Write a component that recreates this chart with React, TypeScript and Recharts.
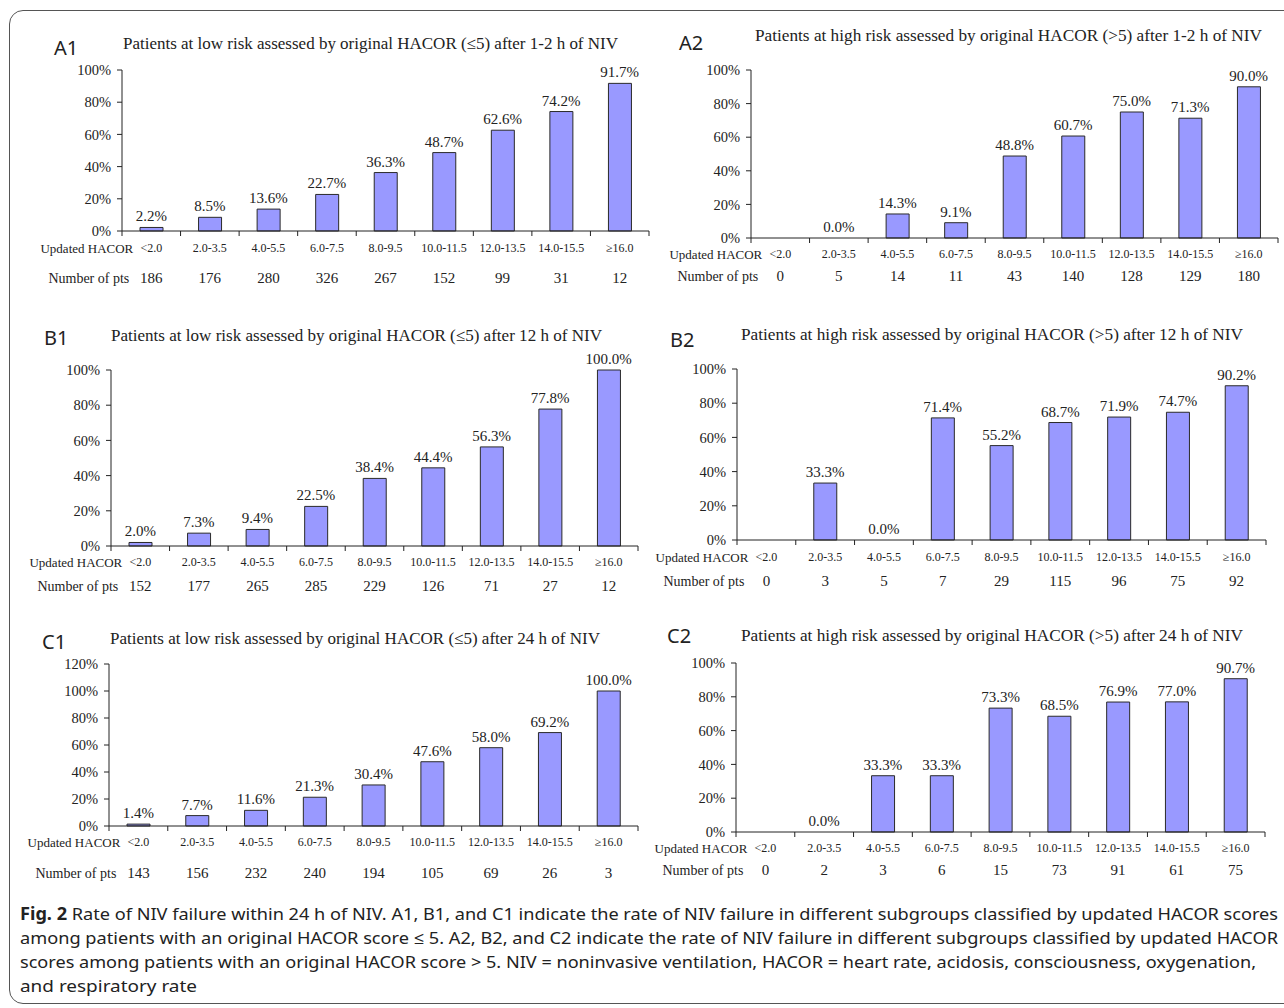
import React from 'react';
import { ComposedChart, Bar, Line, XAxis, YAxis, LabelList } from 'recharts';

const categories = ['<2.0', '2.0-3.5', '4.0-5.5', '6.0-7.5', '8.0-9.5', '10.0-11.5', '12.0-13.5', '14.0-15.5', '≥16.0'];

const a1Rates = [2.2, 8.5, 13.6, 22.7, 36.3, 48.7, 62.6, 74.2, 91.7];
const a1Pts = [186, 176, 280, 326, 267, 152, 99, 31, 12];
const a2Rates = [null, 0.0, 14.3, 9.1, 48.8, 60.7, 75.0, 71.3, 90.0];
const a2Pts = [0, 5, 14, 11, 43, 140, 128, 129, 180];
const b1Rates = [2.0, 7.3, 9.4, 22.5, 38.4, 44.4, 56.3, 77.8, 100.0];
const b1Pts = [152, 177, 265, 285, 229, 126, 71, 27, 12];
const b2Rates = [null, 33.3, 0.0, 71.4, 55.2, 68.7, 71.9, 74.7, 90.2];
const b2Pts = [0, 3, 5, 7, 29, 115, 96, 75, 92];
const c1Rates = [1.4, 7.7, 11.6, 21.3, 30.4, 47.6, 58.0, 69.2, 100.0];
const c1Pts = [143, 156, 232, 240, 194, 105, 69, 26, 3];
const c2Rates = [null, 0.0, 33.3, 33.3, 73.3, 68.5, 76.9, 77.0, 90.7];
const c2Pts = [0, 2, 3, 6, 15, 73, 91, 61, 75];

const yTicks100 = [0, 20, 40, 60, 80, 100];
const yTicks120 = [0, 20, 40, 60, 80, 100, 120];

const rowHeaderCat = 'Updated HACOR';
const rowHeaderPts = 'Number of pts';

const SERIF = '"Liberation Serif", "Times New Roman", serif';
const SANS = '"Noto Sans", "Open Sans", sans-serif';
const INK = '#222';

type PanelProps = {
  rates: (number | null)[];
  pts: number[];
  axisX: number;
  right: number;
  top: number;
  bottom: number;
  yMax: number;
  ticks: number[];
  labelDy: number;
  numDy: number;
};

const ML = 110;
const MR = 12;
const MT = 24;
const XH = 64;

const fmtRate = (v: any) => (v === null || v === undefined ? '' : `${Number(v).toFixed(1)}%`);

function Panel(p: PanelProps) {
  const data = categories.map((c, i) => ({ cat: c, rate: p.rates[i], pts: p.pts[i] }));
  const plotW = p.right - p.axisX;
  const plotH = p.bottom - p.top;
  const band = plotW / categories.length;
  const W = ML + plotW + MR;
  const H = MT + plotH + XH;
  const baseY = MT + plotH;

  const XTick = (tp: any) => {
    const { x, index, payload } = tp;
    return (
      <g>
        {index === 0 && (
          <line x1={x - band / 2} x2={x - band / 2} y1={baseY} y2={baseY + 5} stroke={INK} strokeWidth={1} />
        )}
        <line x1={x + band / 2} x2={x + band / 2} y1={baseY} y2={baseY + 5} stroke={INK} strokeWidth={1} />
        {index === 0 && (
          <text x={x - 18} y={baseY + p.labelDy} textAnchor="end" dominantBaseline="central" fontFamily={SERIF} fontSize={13} fill={INK}>
            {rowHeaderCat}
          </text>
        )}
        {index === 0 && (
          <text x={x - 22} y={baseY + p.numDy} textAnchor="end" dominantBaseline="central" fontFamily={SERIF} fontSize={14} fill={INK}>
            {rowHeaderPts}
          </text>
        )}
        <text x={x} y={baseY + p.labelDy} textAnchor="middle" dominantBaseline="central" fontFamily={SERIF} fontSize={12} fill={INK}>
          {payload.value}
        </text>
        <text x={x} y={baseY + p.numDy} textAnchor="middle" dominantBaseline="central" fontFamily={SERIF} fontSize={15} fill={INK}>
          {p.pts[index]}
        </text>
      </g>
    );
  };

  return (
    <div style={{ position: 'absolute', left: p.axisX - ML, top: p.top - MT }}>
      <ComposedChart width={W} height={H} data={data} margin={{ top: MT, right: MR, left: 0, bottom: 0 }}>
        <XAxis
          dataKey="cat"
          height={XH}
          interval={0}
          tickLine={false}
          axisLine={{ stroke: INK, strokeWidth: 1 }}
          tick={XTick}
        />
        <YAxis
          type="number"
          width={ML}
          domain={[0, p.yMax]}
          ticks={p.ticks}
          interval={0}
          tickFormatter={(v: number) => `${v}%`}
          tickSize={5}
          tickMargin={6}
          axisLine={{ stroke: INK, strokeWidth: 1 }}
          tickLine={{ stroke: INK, strokeWidth: 1 }}
          tick={{ fontFamily: SERIF, fontSize: 14.5, fill: INK }}
        />
        <Bar dataKey="rate" fill="#9999ff" stroke="#2a2a2a" strokeWidth={1} barSize={23} isAnimationActive={false} />
        <Line
          dataKey="rate"
          stroke="none"
          dot={false}
          activeDot={false}
          legendType="none"
          isAnimationActive={false}
        >
          <LabelList
            dataKey="rate"
            position="top"
            offset={6}
            formatter={fmtRate}
            style={{ fontFamily: SERIF, fontSize: 15, fill: INK }}
          />
        </Line>
      </ComposedChart>
    </div>
  );
}

const titles = [
  { label: 'A1', lx: 54, ly: 47, text: 'Patients at low risk assessed by original HACOR (≤5) after 1-2 h of NIV', tx: 123, ty: 43, tw: 495 },
  { label: 'A2', lx: 679, ly: 42, text: 'Patients at high risk assessed by original HACOR (>5) after 1-2 h of NIV', tx: 755, ty: 35, tw: 507 },
  { label: 'B1', lx: 44, ly: 337, text: 'Patients at low risk assessed by original HACOR (≤5) after 12 h of NIV', tx: 111, ty: 335, tw: 491 },
  { label: 'B2', lx: 670, ly: 339, text: 'Patients at high risk assessed by original HACOR (>5) after 12 h of NIV', tx: 741, ty: 334, tw: 502 },
  { label: 'C1', lx: 42, ly: 641, text: 'Patients at low risk assessed by original HACOR (≤5) after 24 h of NIV', tx: 110, ty: 638, tw: 490 },
  { label: 'C2', lx: 667, ly: 635, text: 'Patients at high risk assessed by original HACOR (>5) after 24 h of NIV', tx: 741, ty: 635, tw: 502 },
];

const captionLines = [
  { text: ' Rate of NIV failure within 24 h of NIV. A1, B1, and C1 indicate the rate of NIV failure in different subgroups classified by updated HACOR scores', bold: 'Fig. 2', y: 913, w: 1258 },
  { text: 'among patients with an original HACOR score ≤ 5. A2, B2, and C2 indicate the rate of NIV failure in different subgroups classified by updated HACOR', bold: '', y: 937, w: 1258 },
  { text: 'scores among patients with an original HACOR score > 5. NIV = noninvasive ventilation, HACOR = heart rate, acidosis, consciousness, oxygenation,', bold: '', y: 961, w: 1236 },
  { text: 'and respiratory rate', bold: '', y: 985, w: 177 },
];

export default function App() {
  return (
    <div style={{ position: 'absolute', left: 0, top: 0, width: 1284, height: 1008, background: '#fff', overflow: 'hidden' }}>
      <div
        style={{
          position: 'absolute',
          left: 9,
          top: 10,
          width: 1300,
          height: 994,
          border: '1.5px solid #555',
          borderRadius: 14,
          boxSizing: 'border-box',
        }}
      />
      <Panel rates={a1Rates} pts={a1Pts} axisX={122} right={649} top={70} bottom={231} yMax={100} ticks={yTicks100} labelDy={17} numDy={47} />
      <Panel rates={a2Rates} pts={a2Pts} axisX={751} right={1278} top={70} bottom={238} yMax={100} ticks={yTicks100} labelDy={16} numDy={38} />
      <Panel rates={b1Rates} pts={b1Pts} axisX={111} right={638} top={370} bottom={546} yMax={100} ticks={yTicks100} labelDy={16} numDy={40} />
      <Panel rates={b2Rates} pts={b2Pts} axisX={737} right={1266} top={369} bottom={540} yMax={100} ticks={yTicks100} labelDy={17} numDy={41} />
      <Panel rates={c1Rates} pts={c1Pts} axisX={109} right={638} top={664} bottom={826} yMax={120} ticks={yTicks120} labelDy={16} numDy={47} />
      <Panel rates={c2Rates} pts={c2Pts} axisX={736} right={1265} top={663} bottom={832} yMax={100} ticks={yTicks100} labelDy={16} numDy={38} />
      <svg width={1284} height={1008} style={{ position: 'absolute', left: 0, top: 0, pointerEvents: 'none' }}>
        {titles.map((t) => (
          <g key={t.label}>
            <text x={t.lx} y={t.ly} dominantBaseline="central" fontFamily={SANS} fontSize={20} fill={INK}>
              {t.label}
            </text>
            <text
              x={t.tx}
              y={t.ty}
              dominantBaseline="central"
              fontFamily={SERIF}
              fontSize={16.5}
              fill={INK}
              textLength={t.tw}
              lengthAdjust="spacingAndGlyphs"
            >
              {t.text}
            </text>
          </g>
        ))}
        {captionLines.map((c, i) => (
          <text
            key={i}
            x={20}
            y={c.y}
            dominantBaseline="central"
            fontFamily={SANS}
            fontSize={17}
            fill="#222"
            textLength={c.w}
            lengthAdjust="spacingAndGlyphs"
          >
            {c.bold && <tspan fontWeight="bold">{c.bold}</tspan>}
            {c.text}
          </text>
        ))}
      </svg>
    </div>
  );
}
